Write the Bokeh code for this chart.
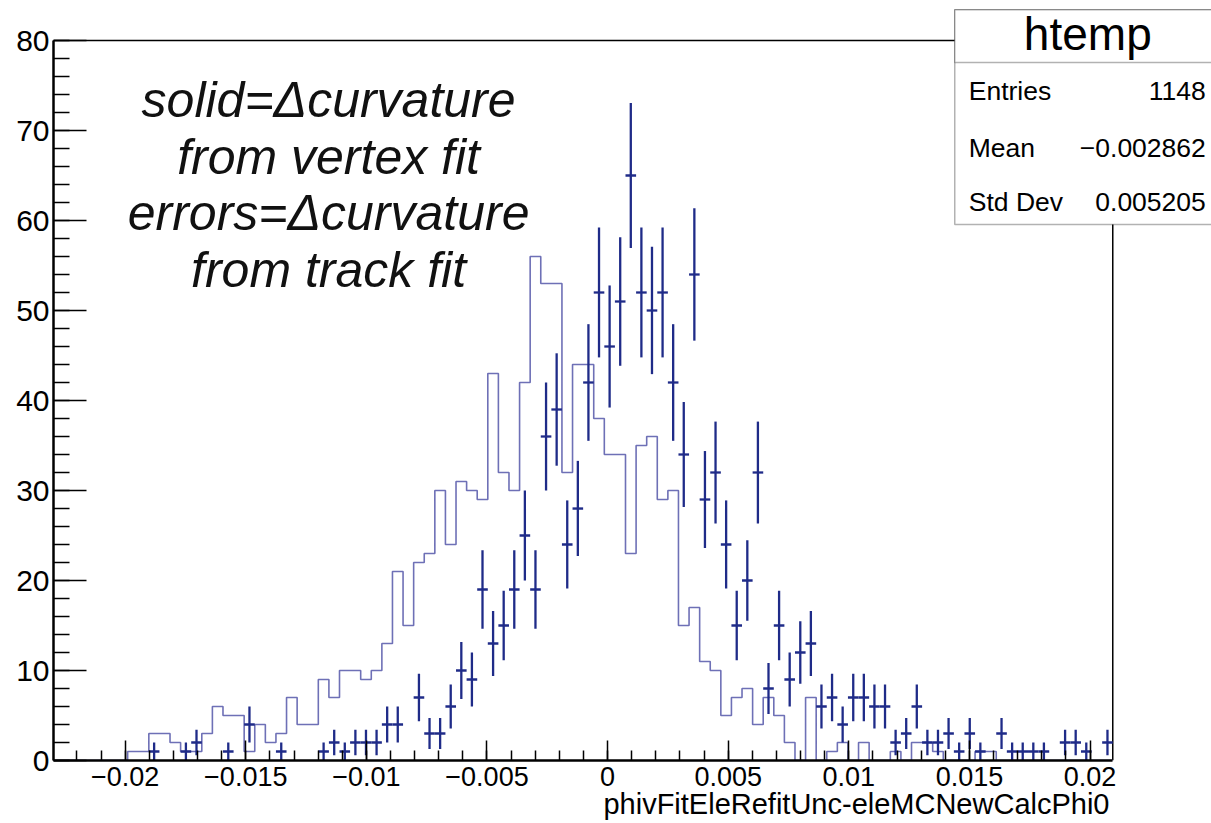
import numpy as np
from bokeh.plotting import figure
from bokeh.models import Range1d, FixedTicker, CustomJSTickFormatter, Label, PolyAnnotation, Title
from bokeh.embed import file_html
from bokeh.resources import INLINE

# ---------------- data ----------------
x_min = -0.02297
x_max = 0.02094
n_bins = 100

# "solid" histogram (delta curvature from vertex fit)
solid_counts = [0, 0, 0, 0, 0, 0, 0, 1, 1, 3,
                3, 2, 1, 1, 3, 6, 5, 5, 1, 4,
                2, 3, 7, 4, 4, 9, 7, 10, 10, 9,
                10, 13, 21, 15, 22, 23, 30, 24, 31, 30,
                29, 43, 32, 30, 42, 56, 53, 53, 32, 44,
                44, 38, 34, 34, 23, 35, 36, 29, 30, 15,
                17, 11, 10, 5, 7, 8, 4, 7, 5, 2,
                0, 7, 0, 1, 2, 0, 2, 0, 0, 1,
                0, 2, 2, 1, 0, 0, 0, 1, 1, 0,
                0, 0, 0, 0, 0, 0, 0, 0, 0, 0]

# "errors" histogram (delta curvature from track fit)
error_counts = [0, 0, 0, 0, 0, 0, 0, 0, 0, 1,
                0, 0, 1, 2, 0, 0, 1, 0, 4, 0,
                0, 1, 0, 0, 0, 1, 2, 1, 2, 2,
                2, 4, 4, 0, 7, 3, 3, 6, 10, 9,
                19, 13, 15, 19, 25, 19, 36, 39, 24, 28,
                42, 52, 46, 51, 65, 52, 50, 52, 42, 34,
                54, 29, 32, 24, 15, 20, 32, 8, 15, 9,
                12, 13, 6, 7, 4, 7, 7, 6, 6, 2,
                3, 6, 2, 2, 3, 1, 3, 1, 0, 3,
                1, 1, 1, 1, 0, 2, 2, 1, 0, 2]

x_ticks = [-0.02, -0.015, -0.01, -0.005, 0.0, 0.005, 0.01, 0.015, 0.02]
y_ticks = [0, 10, 20, 30, 40, 50, 60, 70, 80]
y_max = 80
x_title = "phivFitEleRefitUnc-eleMCNewCalcPhi0"
hist_name = "htemp"
stat_names = ["Entries", "Mean", "Std Dev"]
stat_values = ["1148", "\u22120.002862", "0.005205"]
note_lines = ["solid=\u0394curvature", "from vertex fit", "errors=\u0394curvature", "from track fit"]

# ---------------- derived ----------------
solid = np.array(solid_counts, dtype=float)
errs = np.array(error_counts, dtype=float)
edges = np.linspace(x_min, x_max, n_bins + 1)
centers = 0.5 * (edges[:-1] + edges[1:])
mask = errs > 0
ec = centers[mask]
ev = errs[mask]
esig = np.sqrt(ev)
elo = edges[:-1][mask]
ehi = edges[1:][mask]

FONT = "Liberation Sans"
W, H = 1211, 823
LEFT, BOTTOM = 53, 63
# the plotting frame reaches the canvas top/right edge so the stats box can sit there;
# ROOT's own frame (x_min..x_max, 0..80) is drawn by axis bounds + two frame lines
x_end = x_max + 0.004093
y_end = y_max + 40 / 9.0

p = figure(width=W, height=H,
           x_range=Range1d(x_min, x_end), y_range=Range1d(0, y_end),
           output_backend="svg", toolbar_location=None,
           min_border_left=LEFT, min_border_right=0,
           min_border_top=0, min_border_bottom=BOTTOM)
p.grid.visible = False
p.outline_line_color = None
p.background_fill_color = "white"
p.border_fill_color = "white"

# ROOT frame (top and right)
p.segment(x0=[x_min, x_max], y0=[y_max, 0], x1=[x_max, x_max], y1=[y_max, y_max],
          line_color="black", line_width=1.5)

# solid histogram
p.step(x=edges, y=np.append(solid, solid[-1]), mode="after",
       line_color="#6e70b6", line_width=1.6)

# error-bar histogram
p.segment(x0=ec, y0=ev - esig, x1=ec, y1=ev + esig,
          line_color="#1f2b88", line_width=2.3)
p.segment(x0=elo, y0=ev, x1=ehi, y1=ev,
          line_color="#1f2b88", line_width=2.3)

# axes
fmt = CustomJSTickFormatter(code="""
if (Math.abs(tick) < 1e-12) { return "0"; }
const s = (Math.round(tick * 1000) / 1000).toString();
return s.replace("-", "\u2212");
""")
xminor = list(np.round(np.arange(-0.022, 0.0205, 0.001), 4))
yminor = list(range(0, 81, 2))
p.xaxis.ticker = FixedTicker(ticks=x_ticks, minor_ticks=xminor)
p.yaxis.ticker = FixedTicker(ticks=y_ticks, minor_ticks=yminor)
p.xaxis.formatter = fmt
p.xaxis.bounds = (x_min, x_max)
p.yaxis.bounds = (0, y_max)

for ax in (p.xaxis[0], p.yaxis[0]):
    ax.axis_line_color = "black"
    ax.axis_line_width = 2.5
    ax.major_tick_out = 0
    ax.minor_tick_out = 0
    ax.major_tick_line_width = 1.5
    ax.minor_tick_line_width = 1.5
    ax.major_label_text_font = FONT
    ax.major_label_text_color = "black"

p.xaxis.major_label_text_font_size = "27px"
p.yaxis.major_label_text_font_size = "30px"
p.xaxis.major_tick_in = 20
p.xaxis.minor_tick_in = 10
p.xaxis.major_label_standoff = 6
p.yaxis.major_tick_in = 33
p.yaxis.minor_tick_in = 16
p.yaxis.major_label_standoff = 4

# x-axis title, right aligned under the end of the axis
xt = Title(text=x_title, align="right", offset=102, vertical_align="bottom",
           text_font=FONT, text_font_size="29px", text_font_style="normal",
           text_color="black")
try:
    xt.standoff = -6
except Exception:
    xt.standoff = 0
p.add_layout(xt, "below")

# note text
note_y = [73.38, 67.09, 60.79, 54.49]
for t, yy in zip(note_lines, note_y):
    p.add_layout(Label(x=-0.011567, y=yy, x_units="data", y_units="data",
                       text=t, text_font=FONT, text_font_size="50px",
                       text_font_style="italic", text_align="center",
                       text_baseline="alphabetic", text_color="#111111"))

# stats box
bx0, bx1 = 0.014390, 0.0262
by_top, by_div, by_bot = 83.41, 77.56, 59.56
p.add_layout(PolyAnnotation(xs=[bx0, bx1, bx1, bx0], ys=[by_bot, by_bot, by_top, by_top],
                            fill_color="white", fill_alpha=1.0,
                            line_color="black", line_width=1.5))
p.add_layout(PolyAnnotation(xs=[bx0, bx1, bx1, bx0], ys=[by_div, by_div, by_top, by_top],
                            fill_color="white", fill_alpha=1.0,
                            line_color="black", line_width=1.5))
p.add_layout(Label(x=0.019905, y=80.67, text=hist_name, text_font=FONT,
                   text_font_size="46px", text_align="center",
                   text_baseline="alphabetic", text_color="black"))
stat_y = [74.43, 68.1, 62.1]
for name, val, yy in zip(stat_names, stat_values, stat_y):
    p.add_layout(Label(x=0.014970, y=yy, text=name, text_font=FONT,
                       text_font_size="26.5px", text_align="left",
                       text_baseline="alphabetic", text_color="black"))
    p.add_layout(Label(x=0.024797, y=yy, text=val, text_font=FONT,
                       text_font_size="26.5px", text_align="right",
                       text_baseline="alphabetic", text_color="black"))

open("out.html", "w").write(file_html(p, INLINE))
